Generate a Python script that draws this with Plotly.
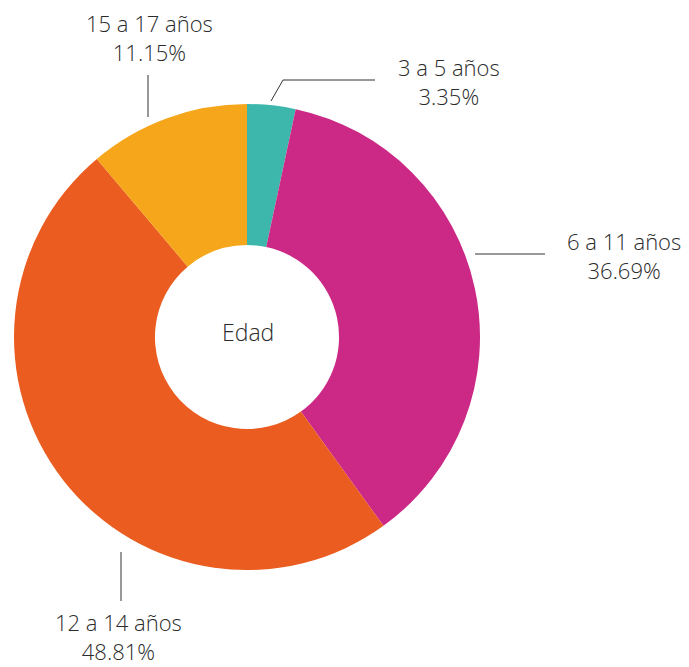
import plotly.graph_objects as go

categories = ["3 a 5 años", "6 a 11 años", "12 a 14 años", "15 a 17 años"]
percentages = [3.35, 36.69, 48.81, 11.15]
center_label = "Edad"

colors = ["#3DB7AC", "#CC2987", "#EA5C1F", "#F6A61B"]

OFF = 8  # default page margin around the plot div
W, H = 689 - OFF, 667 - OFF


def px(x):
    return (x - OFF) / W


def py(y):
    return 1 - (y - OFF) / H


# label block centres (pixel positions in the final picture; style only)
label_pos = [(449, 82), (624, 255), (118, 636), (149, 38)]
leaders = [
    [(271, 101), (283, 80), (375, 80)],
    [(475, 254), (545, 254)],
    [(121, 552), (121, 601)],
    [(148, 75), (148, 117)],
]

cx, cy, R = 247, 337, 233

fig = go.Figure(
    go.Pie(
        labels=categories,
        values=percentages,
        marker=dict(colors=colors, line=dict(width=0)),
        hole=0.395,
        sort=False,
        direction="clockwise",
        rotation=0,
        textinfo="none",
        hoverinfo="label+percent",
        showlegend=False,
        domain=dict(x=[px(cx - R), px(cx + R)], y=[py(cy + R), py(cy - R)]),
    )
)

font = dict(family="'Open Sans', Lato, sans-serif", size=22, color="#2b2b2b", weight=300)
annotations = []
for cat, pct, (lx, ly) in zip(categories, percentages, label_pos):
    annotations.append(dict(x=px(lx), y=py(ly), xref="paper", yref="paper",
                            text=f"{cat}<br>{pct:.2f}%", showarrow=False, font=font,
                            borderpad=0, align="center",
                            xanchor="center", yanchor="middle"))
annotations.append(dict(x=px(248), y=py(332), xref="paper", yref="paper",
                        text=center_label, showarrow=False, borderpad=0,
                        font=dict(family="'Open Sans', Lato, sans-serif", size=23,
                                  color="#2b2b2b", weight=300),
                        xanchor="center", yanchor="middle"))

shapes = []
for pts in leaders:
    path = "M " + " L ".join(f"{px(x)},{py(y)}" for x, y in pts)
    shapes.append(dict(type="path", path=path, xref="paper", yref="paper",
                       line=dict(color="#333333", width=1)))

fig.update_layout(
    width=W, height=H,
    margin=dict(l=0, r=0, t=0, b=0),
    paper_bgcolor="white",
    plot_bgcolor="white",
    annotations=annotations,
    shapes=shapes,
)

fig.write_html("out.html")
